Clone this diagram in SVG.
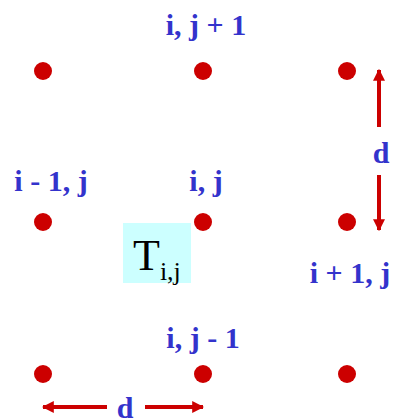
<svg xmlns="http://www.w3.org/2000/svg" width="395" height="419" viewBox="0 0 395 419">
<defs>
<style>
.dot{fill:#CC0000}
.lbl{font-family:"Liberation Serif","Times New Roman",serif;font-weight:bold;font-size:30px;fill:#3333CC}
.arr{stroke:#CC0000;stroke-width:4;fill:none;marker-end:url(#ah)}
</style>
<marker id="ah" viewBox="0 0 10 10" refX="9" refY="5" markerWidth="3" markerHeight="3.2" orient="auto" markerUnits="strokeWidth">
<path d="M0,0 L10,5 L0,10 z" fill="#CC0000"/>
</marker>
</defs>
<rect width="395" height="419" fill="#fff"/>
<g id="tbox">
<rect x="123" y="223" width="68" height="60" fill="#CCFFFF"/>
<text x="133" y="270" font-family="Liberation Serif,serif" font-size="44" fill="#000">T<tspan font-size="26" dy="10">i,j</tspan></text>
</g>
<g id="n_top_left"><circle class="dot" cx="43" cy="71" r="9"/></g>
<g id="n_top_mid"><circle class="dot" cx="203" cy="71" r="9"/><text class="lbl" x="206" y="35" text-anchor="middle">i, j + 1</text></g>
<g id="n_top_right"><circle class="dot" cx="347" cy="71" r="9"/></g>
<g id="n_mid_left"><circle class="dot" cx="43" cy="222" r="9"/><text class="lbl" x="51" y="191" text-anchor="middle">i - 1, j</text></g>
<g id="n_mid_mid"><circle class="dot" cx="203" cy="222" r="9"/><text class="lbl" x="206" y="191" text-anchor="middle">i, j</text></g>
<g id="n_mid_right"><circle class="dot" cx="347" cy="222" r="9"/><text class="lbl" x="350" y="283" text-anchor="middle">i + 1, j</text></g>
<g id="n_bot_left"><circle class="dot" cx="43" cy="374" r="9"/></g>
<g id="n_bot_mid"><circle class="dot" cx="203" cy="374" r="9"/><text class="lbl" x="203" y="348" text-anchor="middle">i, j - 1</text></g>
<g id="n_bot_right"><circle class="dot" cx="347" cy="374" r="9"/></g>
<g id="connectors">
<line class="arr" x1="379" y1="127" x2="379" y2="70"/>
<line class="arr" x1="379" y1="175" x2="379" y2="230"/>
<line class="arr" x1="107" y1="407" x2="43" y2="407"/>
<line class="arr" x1="145" y1="407" x2="203" y2="407"/>
<text class="lbl" x="381" y="163" text-anchor="middle">d</text>
<text class="lbl" x="125" y="418" text-anchor="middle">d</text>
</g>
</svg>
